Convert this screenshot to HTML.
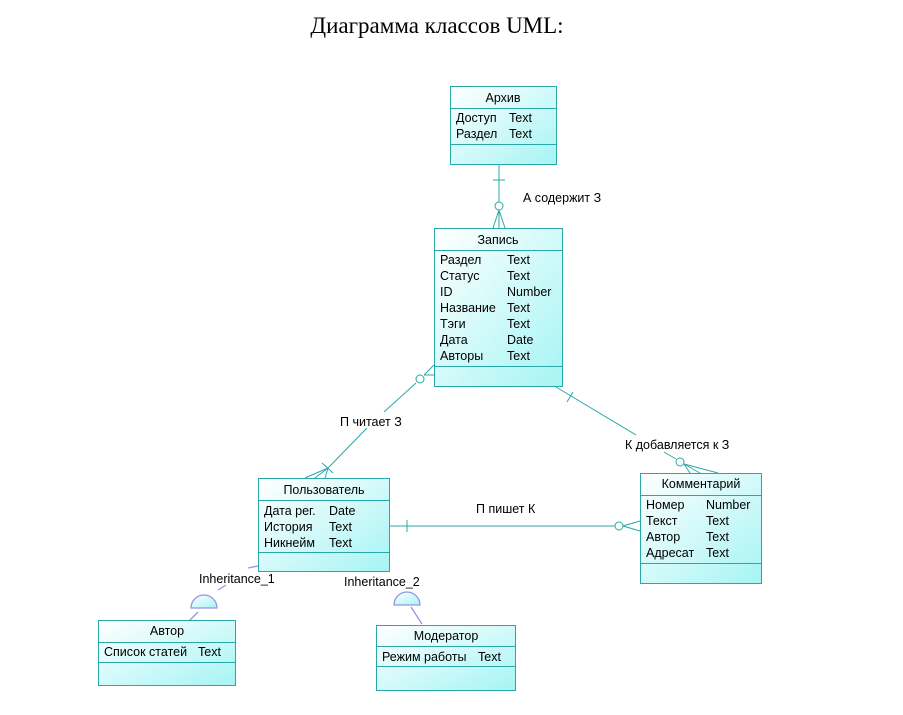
<!DOCTYPE html>
<html><head><meta charset="utf-8"><style>
html,body{margin:0;padding:0;background:#fff;width:903px;height:715px;overflow:hidden}
svg{display:block}
text{font-family:"Liberation Sans",sans-serif;font-size:12.5px;fill:#000}
</style></head><body>
<svg width="903" height="715" viewBox="0 0 903 715" xmlns="http://www.w3.org/2000/svg">
<defs>
<linearGradient id="g" x1="0" y1="0" x2="1" y2="1">
<stop offset="0" stop-color="#ffffff"/><stop offset="1" stop-color="#a6f4f4"/>
</linearGradient>
</defs>
<text x="437" y="33" text-anchor="middle" style="font-family:'Liberation Serif',serif;font-size:23px">Диаграмма классов UML:</text>

<g stroke="#2aa8a8" stroke-width="1" fill="none">
<line x1="499" y1="165" x2="499" y2="202"/>
<line x1="493" y1="180" x2="505" y2="180"/>
<circle cx="499" cy="206" r="4" fill="#fff"/>
<line x1="499" y1="210" x2="493" y2="228"/><line x1="499" y1="210" x2="505" y2="228"/><line x1="499" y1="210" x2="499" y2="228"/>
<line x1="416" y1="383" x2="384" y2="412"/>
<line x1="367" y1="428" x2="328" y2="468"/>
<line x1="424" y1="375" x2="434" y2="365"/><line x1="424" y1="375" x2="434" y2="375"/>
<circle cx="420" cy="379" r="4" fill="#fff"/>
<line x1="322" y1="463" x2="333" y2="473"/>
<line x1="328" y1="468" x2="305" y2="478"/><line x1="328" y1="468" x2="315" y2="478"/><line x1="328" y1="468" x2="325" y2="478"/>
<line x1="556" y1="387" x2="636" y2="435"/>
<line x1="567" y1="402" x2="573" y2="392"/>
<line x1="664" y1="452" x2="676" y2="459"/>
<circle cx="680" cy="462" r="4" fill="#fff"/>
<line x1="684" y1="464" x2="700" y2="473"/><line x1="684" y1="464" x2="718" y2="473"/><line x1="684" y1="464" x2="690" y2="473"/>
<line x1="390" y1="526" x2="615" y2="526"/>
<line x1="407" y1="520" x2="407" y2="532"/>
<circle cx="619" cy="526" r="4" fill="#fff"/>
<line x1="623" y1="526" x2="640" y2="521"/><line x1="623" y1="526" x2="640" y2="531"/>
</g>
<g stroke="#9494e4" stroke-width="1.3" fill="none">
<line x1="198" y1="612" x2="184" y2="626"/>
<line x1="218" y1="590" x2="226" y2="585"/>
<line x1="248" y1="568" x2="258" y2="566"/>
<path d="M191 608 A13 13 0 0 1 217 608 Z" fill="url(#g)"/>
<line x1="411" y1="607" x2="422" y2="624"/>
<path d="M394 605 A13 13 0 0 1 420 605 Z" fill="url(#g)"/>
</g>
<text x="523" y="202">А содержит З</text>
<text x="340" y="426">П читает З</text>
<text x="625" y="449">К добавляется к З</text>
<text x="476" y="513">П пишет К</text>
<text x="199" y="583">Inheritance_1</text>
<text x="344" y="586">Inheritance_2</text>

<g stroke="#2aa8a8" stroke-width="1" fill="url(#g)">
<rect x="450.5" y="86.5" width="106" height="78"/>
<rect x="434.5" y="228.5" width="128" height="158"/>
<rect x="258.5" y="478.5" width="131" height="93"/>
<rect x="640.5" y="473.5" width="121" height="110"/>
<rect x="98.5" y="620.5" width="137" height="65"/>
<rect x="376.5" y="625.5" width="139" height="65"/>
</g>
<g stroke="#2aa8a8" stroke-width="1">
<line x1="450" y1="108.5" x2="557" y2="108.5"/><line x1="450" y1="144.5" x2="557" y2="144.5"/>
<line x1="434" y1="250.5" x2="563" y2="250.5"/><line x1="434" y1="366.5" x2="563" y2="366.5"/>
<line x1="258" y1="500.5" x2="390" y2="500.5"/><line x1="258" y1="552.5" x2="390" y2="552.5"/>
<line x1="640" y1="495.5" x2="762" y2="495.5"/><line x1="640" y1="563.5" x2="762" y2="563.5"/>
<line x1="98" y1="642.5" x2="236" y2="642.5"/><line x1="98" y1="662.5" x2="236" y2="662.5"/>
<line x1="376" y1="646.5" x2="516" y2="646.5"/><line x1="376" y1="666.5" x2="516" y2="666.5"/>
</g>
<text x="503" y="102" text-anchor="middle">Архив</text>
<text x="456" y="122">Доступ</text><text x="509" y="122">Text</text>
<text x="456" y="138">Раздел</text><text x="509" y="138">Text</text>

<text x="498" y="244" text-anchor="middle">Запись</text>
<text x="440" y="264">Раздел</text><text x="507" y="264">Text</text>
<text x="440" y="280">Статус</text><text x="507" y="280">Text</text>
<text x="440" y="296">ID</text><text x="507" y="296">Number</text>
<text x="440" y="312">Название</text><text x="507" y="312">Text</text>
<text x="440" y="328">Тэги</text><text x="507" y="328">Text</text>
<text x="440" y="344">Дата</text><text x="507" y="344">Date</text>
<text x="440" y="360">Авторы</text><text x="507" y="360">Text</text>

<text x="324" y="494" text-anchor="middle">Пользователь</text>
<text x="264" y="515">Дата рег.</text><text x="329" y="515">Date</text>
<text x="264" y="531">История</text><text x="329" y="531">Text</text>
<text x="264" y="547">Никнейм</text><text x="329" y="547">Text</text>

<text x="701" y="488" text-anchor="middle">Комментарий</text>
<text x="646" y="509">Номер</text><text x="706" y="509">Number</text>
<text x="646" y="525">Текст</text><text x="706" y="525">Text</text>
<text x="646" y="541">Автор</text><text x="706" y="541">Text</text>
<text x="646" y="557">Адресат</text><text x="706" y="557">Text</text>

<text x="167" y="635" text-anchor="middle">Автор</text>
<text x="104" y="656">Список статей</text><text x="198" y="656">Text</text>

<text x="446" y="640" text-anchor="middle">Модератор</text>
<text x="382" y="661">Режим работы</text><text x="478" y="661">Text</text>
</svg>
</body></html>
